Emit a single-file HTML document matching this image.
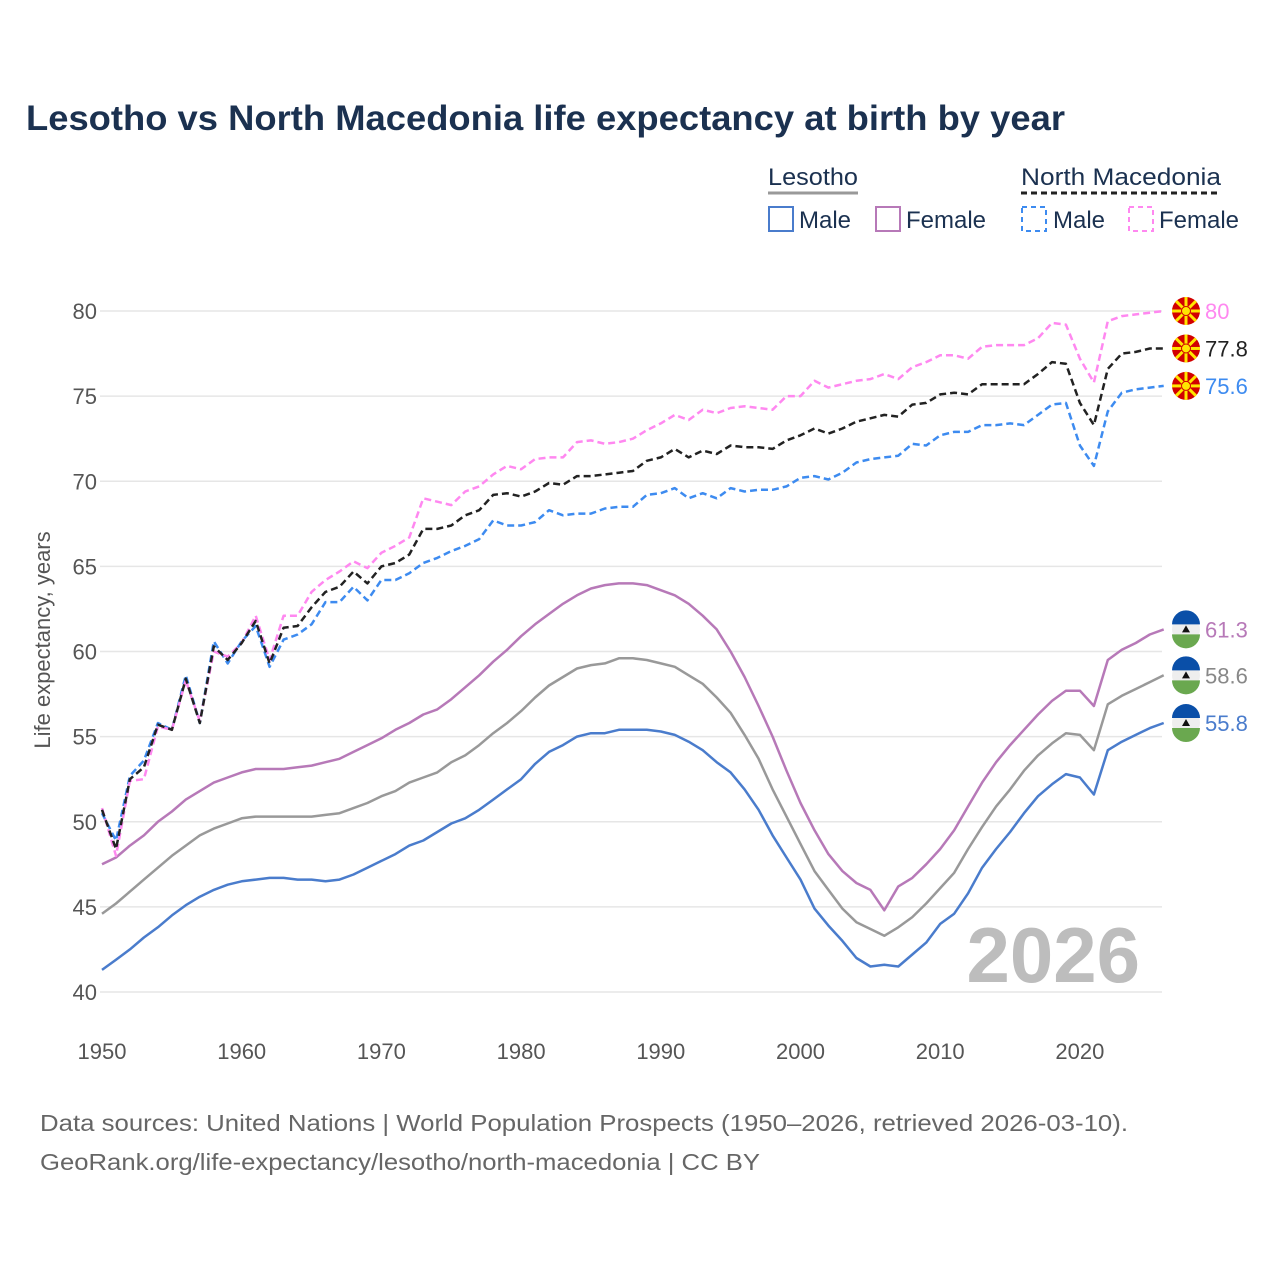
<!DOCTYPE html>
<html><head><meta charset="utf-8"><style>
body{margin:0;background:#fff;}
svg{display:block;font-family:"Liberation Sans",sans-serif;}
</style></head><body>
<svg id="chart" width="1280" height="1280" viewBox="0 0 1280 1280">
<text x="26" y="130" font-size="35" font-weight="bold" fill="#1b3150" textLength="1039" lengthAdjust="spacingAndGlyphs">Lesotho vs North Macedonia life expectancy at birth by year</text>
<g>
 <text x="768" y="185" font-size="24" fill="#1b3150" textLength="90" lengthAdjust="spacingAndGlyphs">Lesotho</text>
 <line x1="768" y1="193" x2="858" y2="193" stroke="#999" stroke-width="3"/>
 <rect x="769" y="207" width="24" height="24" fill="none" stroke="#4a7ccc" stroke-width="2"/>
 <text x="799" y="228" font-size="24" fill="#1b3150">Male</text>
 <rect x="876" y="207" width="24" height="24" fill="none" stroke="#b779b8" stroke-width="2"/>
 <text x="906" y="228" font-size="24" fill="#1b3150">Female</text>
 <text x="1021" y="185" font-size="24" fill="#1b3150" textLength="200" lengthAdjust="spacingAndGlyphs">North Macedonia</text>
 <line x1="1021" y1="193" x2="1221" y2="193" stroke="#222" stroke-width="3" stroke-dasharray="6,4"/>
 <rect x="1022" y="207" width="24" height="24" fill="none" stroke="#3d8bf0" stroke-width="2" stroke-dasharray="5,4"/>
 <text x="1053" y="228" font-size="24" fill="#1b3150">Male</text>
 <rect x="1129" y="207" width="24" height="24" fill="none" stroke="#ff88f0" stroke-width="2" stroke-dasharray="5,4"/>
 <text x="1159" y="228" font-size="24" fill="#1b3150">Female</text>
</g>
<text transform="translate(50,640) rotate(-90)" text-anchor="middle" font-size="22" fill="#555">Life expectancy, years</text>
<text x="1140" y="982" text-anchor="end" font-size="78" font-weight="bold" fill="#bdbdbd">2026</text>
<g id="grid"></g><g id="series"></g><g id="ends"></g>
<text x="40" y="1131" font-size="23" fill="#666" textLength="1088" lengthAdjust="spacingAndGlyphs">Data sources: United Nations | World Population Prospects (1950–2026, retrieved 2026-03-10).</text>
<text x="40" y="1170" font-size="23" fill="#666" textLength="720" lengthAdjust="spacingAndGlyphs">GeoRank.org/life-expectancy/lesotho/north-macedonia | CC BY</text>
</svg>
<script>
const startYear = 1950;
const xTicks = [1950,1960,1970,1980,1990,2000,2010,2020];
const yTicks = [40,45,50,55,60,65,70,75,80];
const lsMale = [41.3,41.9,42.5,43.2,43.8,44.5,45.1,45.6,46.0,46.3,46.5,46.6,46.7,46.7,46.6,46.6,46.5,46.6,46.9,47.3,47.7,48.1,48.6,48.9,49.4,49.9,50.2,50.7,51.3,51.9,52.5,53.4,54.1,54.5,55.0,55.2,55.2,55.4,55.4,55.4,55.3,55.1,54.7,54.2,53.5,52.9,51.9,50.7,49.2,47.9,46.6,44.9,43.9,43.0,42.0,41.5,41.6,41.5,42.2,42.9,44.0,44.6,45.8,47.3,48.4,49.4,50.5,51.5,52.2,52.8,52.6,51.6,54.2,54.7,55.1,55.5,55.8];
const lsFemale = [47.5,47.9,48.6,49.2,50.0,50.6,51.3,51.8,52.3,52.6,52.9,53.1,53.1,53.1,53.2,53.3,53.5,53.7,54.1,54.5,54.9,55.4,55.8,56.3,56.6,57.2,57.9,58.6,59.4,60.1,60.9,61.6,62.2,62.8,63.3,63.7,63.9,64.0,64.0,63.9,63.6,63.3,62.8,62.1,61.3,60.0,58.5,56.8,55.0,53.0,51.1,49.5,48.1,47.1,46.4,46.0,44.8,46.2,46.7,47.5,48.4,49.5,50.9,52.3,53.5,54.5,55.4,56.3,57.1,57.7,57.7,56.8,59.5,60.1,60.5,61.0,61.3];
const lsTotal = [44.6,45.2,45.9,46.6,47.3,48.0,48.6,49.2,49.6,49.9,50.2,50.3,50.3,50.3,50.3,50.3,50.4,50.5,50.8,51.1,51.5,51.8,52.3,52.6,52.9,53.5,53.9,54.5,55.2,55.8,56.5,57.3,58.0,58.5,59.0,59.2,59.3,59.6,59.6,59.5,59.3,59.1,58.6,58.1,57.3,56.4,55.1,53.7,51.9,50.3,48.7,47.1,46.0,44.9,44.1,43.7,43.3,43.8,44.4,45.2,46.1,47.0,48.4,49.7,50.9,51.9,53.0,53.9,54.6,55.2,55.1,54.2,56.9,57.4,57.8,58.2,58.6];
const mkFemale = [50.8,48.0,52.4,52.5,55.6,55.4,58.3,55.9,60.0,59.7,60.5,62.1,59.5,62.1,62.1,63.5,64.2,64.7,65.3,64.9,65.8,66.2,66.7,69.0,68.8,68.6,69.4,69.7,70.4,70.9,70.7,71.3,71.4,71.4,72.3,72.4,72.2,72.3,72.5,73.0,73.4,73.9,73.6,74.2,74.0,74.3,74.4,74.3,74.2,75.0,75.0,75.9,75.5,75.7,75.9,76.0,76.3,76.0,76.7,77.0,77.4,77.4,77.2,77.9,78.0,78.0,78.0,78.4,79.3,79.2,77.2,75.8,79.4,79.7,79.8,79.9,80.0];
const mkMale = [50.5,48.9,52.7,53.6,55.8,55.4,58.6,55.8,60.6,59.3,60.6,61.5,59.1,60.7,61.0,61.6,62.9,62.9,63.8,63.0,64.2,64.2,64.6,65.2,65.5,65.9,66.2,66.6,67.7,67.4,67.4,67.6,68.3,68.0,68.1,68.1,68.4,68.5,68.5,69.2,69.3,69.6,69.0,69.3,69.0,69.6,69.4,69.5,69.5,69.7,70.2,70.3,70.1,70.5,71.1,71.3,71.4,71.5,72.2,72.1,72.7,72.9,72.9,73.3,73.3,73.4,73.3,73.9,74.5,74.6,72.1,70.9,74.1,75.2,75.4,75.5,75.6];
const mkTotal = [50.7,48.4,52.5,53.2,55.7,55.4,58.4,55.8,60.3,59.5,60.5,61.8,59.3,61.4,61.5,62.6,63.5,63.8,64.7,64.0,65.0,65.2,65.7,67.2,67.2,67.4,68.0,68.3,69.2,69.3,69.1,69.4,69.9,69.8,70.3,70.3,70.4,70.5,70.6,71.2,71.4,71.9,71.4,71.8,71.6,72.1,72.0,72.0,71.9,72.4,72.7,73.1,72.8,73.1,73.5,73.7,73.9,73.8,74.5,74.6,75.1,75.2,75.1,75.7,75.7,75.7,75.7,76.3,77.0,76.9,74.6,73.3,76.6,77.5,77.6,77.8,77.8];

const NS = "http://www.w3.org/2000/svg";
function xs(yr){ return 102 + (yr - 1950) * 13.97; }
function ys(v){ return 992 - (v - 40) * 17.025; }
function mk(tag, attrs, parent){ const e = document.createElementNS(NS, tag); for (const k in attrs) e.setAttribute(k, attrs[k]); parent.appendChild(e); return e; }

const grid = document.getElementById('grid');
yTicks.forEach(v => {
  const l = mk('line', {x1:100, x2:1162, y1:ys(v), y2:ys(v), stroke:'#e6e6e6', 'stroke-width':1.5}, grid);
  
  
  const t = mk('text', {x:97, y:ys(v)+8, 'text-anchor':'end', 'font-size':22, fill:'#555'}, grid);
  t.textContent = v;
  
  
});
xTicks.forEach(yr => {
  const t = mk('text', {x:xs(yr), y:1059, 'text-anchor':'middle', 'font-size':22, fill:'#555'}, grid);
  t.textContent = yr;
  
  
});

const ser = document.getElementById('series');
const ends = document.getElementById('ends');
const defs = [
  {d:lsMale, c:'#4a7ccc', dash:null, n:'lesotho-male', lab:'#4a7ccc', flag:'ls'},
  {d:lsTotal, c:'#999', dash:null, n:'lesotho-total', lab:'#888', flag:'ls'},
  {d:lsFemale, c:'#b779b8', dash:null, n:'lesotho-female', lab:'#b779b8', flag:'ls'},
  {d:mkMale, c:'#3d8bf0', dash:'7,4', n:'macedonia-male', lab:'#3d8bf0', flag:'mk'},
  {d:mkFemale, c:'#ff88f0', dash:'7,4', n:'macedonia-female', lab:'#ff88f0', flag:'mk'},
  {d:mkTotal, c:'#222', dash:'7,4', n:'macedonia-total', lab:'#222', flag:'mk'}
];
defs.forEach(s => {
  const pts = s.d.map((v,i) => xs(startYear+i).toFixed(1) + ',' + ys(v).toFixed(1)).join(' ');
  const a = {points:pts, fill:'none', stroke:s.c, 'stroke-width':2.5, 'stroke-linejoin':'round'};
  if (s.dash) a['stroke-dasharray'] = s.dash;
  const p = mk('polyline', a, ser);
  
  
  const last = s.d[s.d.length-1];
  const cx = 1186, cy = ys(last);
  const g = mk('g', {}, ends);
  
  
  if (s.flag === 'mk') {
    mk('circle', {cx:cx, cy:cy, r:14, fill:'#d20000'}, g);
    for (let k=0;k<8;k++){
      const ang = k*Math.PI/4;
      mk('line', {x1:cx, y1:cy, x2:cx+14*Math.cos(ang), y2:cy+14*Math.sin(ang), stroke:'#ffe600', 'stroke-width':3}, g);
    }
    mk('circle', {cx:cx, cy:cy, r:4.5, fill:'#ffe600', stroke:'#d20000', 'stroke-width':1}, g);
  } else {
    mk('circle', {cx:cx, cy:cy, r:14, fill:'#eee'}, g);
    mk('path', {d:`M${cx-14},${cy-5} A14,14 0 0 1 ${cx+14},${cy-5} Z`, fill:'#0a4fa8'}, g);
    mk('path', {d:`M${cx-14},${cy+5} A14,14 0 0 0 ${cx+14},${cy+5} Z`, fill:'#6aa84f'}, g);
    mk('path', {d:`M${cx-4},${cy+3} L${cx},${cy-4} L${cx+4},${cy+3} Z`, fill:'#111'}, g);
  }
  const t = mk('text', {x:1205, y:cy+8, 'font-size':22, fill:s.lab}, ends);
  t.textContent = last;
  
  
});
</script>
</body></html>
